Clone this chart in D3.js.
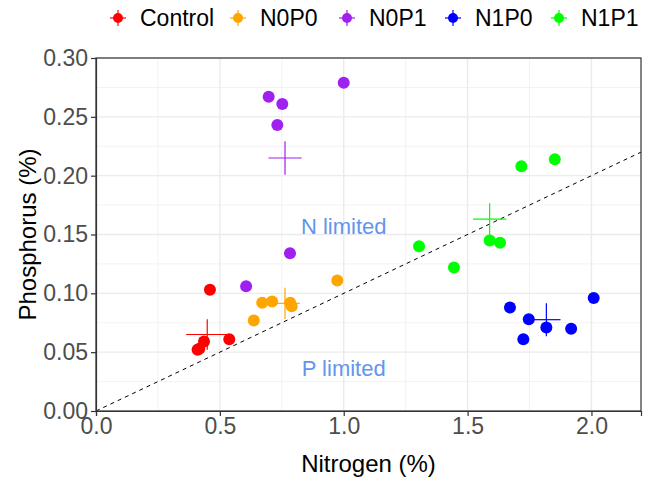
<!DOCTYPE html>
<html>
<head>
<meta charset="utf-8">
<script src="https://cdn.jsdelivr.net/npm/d3@7"></script>
<style>
  body { margin: 0; background: #fff; }
  text { font-family: "Liberation Sans", Arial, sans-serif; }
</style>
</head>
<body>
<div id="chart"></div>
<script>
// groups and colours
const groups = ["Control", "N0P0", "N0P1", "N1P0", "N1P1"];
const groupColors = ["#FF0000", "#FFA500", "#A020F0", "#0000FF", "#00FF00"];

// sample values, nitrogen (%) and phosphorus (%) per group
const controlN = [0.46, 0.538, 0.436, 0.417, 0.41];
const controlP = [0.103, 0.061, 0.059, 0.053, 0.052];
const n0p0N = [0.974, 0.671, 0.711, 0.784, 0.637, 0.79];
const n0p0P = [0.111, 0.092, 0.093, 0.092, 0.077, 0.089];
const n0p1N = [0.697, 0.752, 0.732, 1.0, 0.783, 0.606];
const n0p1P = [0.267, 0.261, 0.243, 0.279, 0.134, 0.106];
const n1p0N = [1.671, 1.747, 1.818, 1.725, 1.918, 2.009];
const n1p0P = [0.088, 0.078, 0.071, 0.061, 0.070, 0.096];
const n1p1N = [1.304, 1.589, 1.631, 1.717, 1.852, 1.445];
const n1p1P = [0.140, 0.145, 0.143, 0.208, 0.214, 0.122];

// group means and error bar half-lengths (crosses)
const meanN = [0.449, 0.763, 0.763, 1.818, 1.589];
const meanP = [0.065, 0.0915, 0.215, 0.0776, 0.163];
const errN = [0.085, 0.06, 0.067, 0.057, 0.067];
const errP = [0.013, 0.0133, 0.0142, 0.014, 0.0136];

// tick labels
const xTicks = [0, 0.5, 1.0, 1.5, 2.0];
const yTicks = [0, 0.05, 0.10, 0.15, 0.20, 0.25, 0.30];
const xMinor = [0.25, 0.75, 1.25, 1.75];
const yMinor = [0.025, 0.075, 0.125, 0.175, 0.225, 0.275];

// 1:10 N:P reference line
const refLine = [[0, 0], [2.2, 0.22]];

const sampleN = [controlN, n0p0N, n0p1N, n1p0N, n1p1N];
const sampleP = [controlP, n0p0P, n0p1P, n1p0P, n1p1P];
const points = [];
groups.forEach((g, i) => {
  sampleN[i].forEach((n, j) => points.push({ group: g, n: n, p: sampleP[i][j] }));
});
const means = groups.map((g, i) => ({ group: g, n: meanN[i], p: meanP[i], en: errN[i], ep: errP[i] }));

const color = d3.scaleOrdinal().domain(groups).range(groupColors);

const W = 645, H = 479;
const margin = { top: 58, right: 4, bottom: 68, left: 96 };
const width = W - margin.left - margin.right;
const height = H - margin.top - margin.bottom;

const root = d3.select("#chart").append("svg")
  .attr("width", W).attr("height", H);
const svg = root.append("g")
  .attr("transform", `translate(${margin.left},${margin.top})`);

const x = d3.scaleLinear().domain([0, 2.2]).range([0, width]);
const y = d3.scaleLinear().domain([0, 0.30]).range([height, 0]);

// grid
svg.append("g").selectAll("line").data(xMinor).join("line")
  .attr("x1", d => x(d)).attr("x2", d => x(d)).attr("y1", 0).attr("y2", height)
  .attr("stroke", "#f2f2f2").attr("stroke-width", 1);
svg.append("g").selectAll("line").data(yMinor).join("line")
  .attr("y1", d => y(d)).attr("y2", d => y(d)).attr("x1", 0).attr("x2", width)
  .attr("stroke", "#f2f2f2").attr("stroke-width", 1);
svg.append("g").selectAll("line").data(xTicks).join("line")
  .attr("x1", d => x(d)).attr("x2", d => x(d)).attr("y1", 0).attr("y2", height)
  .attr("stroke", "#ebebeb").attr("stroke-width", 1.4);
svg.append("g").selectAll("line").data(yTicks).join("line")
  .attr("y1", d => y(d)).attr("y2", d => y(d)).attr("x1", 0).attr("x2", width)
  .attr("stroke", "#ebebeb").attr("stroke-width", 1.4);

// reference line
svg.append("path")
  .datum(refLine)
  .attr("d", d3.line().x(d => x(d[0])).y(d => y(d[1])))
  .attr("fill", "none").attr("stroke", "#000").attr("stroke-width", 1)
  .attr("stroke-dasharray", "4,4");

// annotations
svg.append("text").attr("x", x(1.0)).attr("y", y(0.157))
  .attr("text-anchor", "middle").attr("dominant-baseline", "central")
  .attr("fill", "#6495ED").style("font-size", "22px").text("N limited");
svg.append("text").attr("x", x(1.0)).attr("y", y(0.036))
  .attr("text-anchor", "middle").attr("dominant-baseline", "central")
  .attr("fill", "#6495ED").style("font-size", "22px").text("P limited");

// points
svg.append("g").selectAll("circle").data(points).join("circle")
  .attr("cx", d => x(d.n)).attr("cy", d => y(d.p)).attr("r", 6)
  .attr("fill", d => color(d.group));

// mean crosses
const cross = svg.append("g").selectAll("g").data(means).join("g");
cross.append("line")
  .attr("x1", d => x(d.n - d.en)).attr("x2", d => x(d.n + d.en))
  .attr("y1", d => y(d.p)).attr("y2", d => y(d.p))
  .attr("stroke", d => color(d.group)).attr("stroke-width", 1.2);
cross.append("line")
  .attr("x1", d => x(d.n)).attr("x2", d => x(d.n))
  .attr("y1", d => y(d.p - d.ep)).attr("y2", d => y(d.p + d.ep))
  .attr("stroke", d => color(d.group)).attr("stroke-width", 1.2);

// panel border
svg.append("rect").attr("width", width).attr("height", height)
  .attr("fill", "none").attr("stroke", "#333").attr("stroke-width", 1.2);

// axes
const xAxis = svg.append("g").attr("transform", `translate(0,${height})`)
  .call(d3.axisBottom(x).tickValues(xTicks).tickFormat(d3.format(".1f")).tickSize(5).tickPadding(2));
const yAxis = svg.append("g")
  .call(d3.axisLeft(y).tickValues(yTicks).tickFormat(d3.format(".2f")).tickSize(5).tickPadding(3));
[xAxis, yAxis].forEach(a => {
  a.select(".domain").attr("stroke", "#333").attr("stroke-width", 1.2);
  a.selectAll(".tick line").attr("stroke", "#333").attr("stroke-width", 1.2);
  a.selectAll(".tick text").attr("fill", "#4d4d4d")
    .style("font-size", "23px").style("font-family", "'Liberation Sans', Arial, sans-serif");
});

// axis titles
svg.append("text").attr("x", width / 2).attr("y", height + 61)
  .attr("text-anchor", "middle").style("font-size", "24px").text("Nitrogen (%)");
svg.append("text").attr("transform", `translate(${-60},${height / 2}) rotate(-90)`)
  .attr("text-anchor", "middle").style("font-size", "24px").text("Phosphorus (%)");

// legend
const legendX = [118, 238, 347, 453, 559];
const legend = root.append("g").selectAll("g").data(groups).join("g")
  .attr("transform", (d, i) => `translate(${legendX[i]},18)`);
legend.append("line").attr("x1", -8).attr("x2", 8)
  .attr("stroke", d => color(d)).attr("stroke-width", 1.2);
legend.append("line").attr("y1", -8).attr("y2", 8)
  .attr("stroke", d => color(d)).attr("stroke-width", 1.2);
legend.append("circle").attr("r", 5).attr("fill", d => color(d));
legend.append("text").attr("x", 22).attr("dominant-baseline", "central")
  .style("font-size", "23px").text(d => d);
</script>
</body>
</html>
